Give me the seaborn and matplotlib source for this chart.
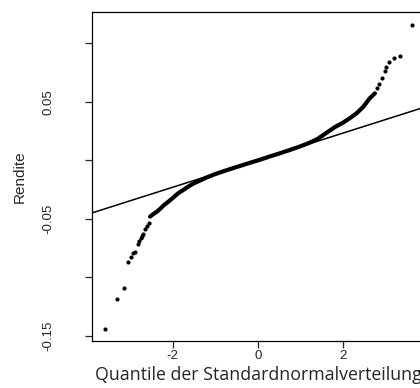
import matplotlib
matplotlib.use("Agg")
import matplotlib.pyplot as plt
import seaborn as sns

# Sparse points in the lower tail (theoretical quantile, return)
tail_low_q = [-3.59, -3.30, -3.15, -3.04, -2.98, -2.93, -2.88, -2.82, -2.78,
              -2.75, -2.72, -2.69, -2.65, -2.61, -2.56]
tail_low_r = [-0.1443, -0.1186, -0.1092, -0.0865, -0.0822, -0.0793, -0.0785,
              -0.0716, -0.0685, -0.0665, -0.0645, -0.0628, -0.0588, -0.0560, -0.0537]

# Dense body of the sample (drawn as a thick band)
body_q = [-2.53, -2.45, -2.37, -2.28, -2.20, -2.10, -1.98, -1.87, -1.75, -1.63,
          -1.50, -1.35, -1.20, -1.00, -0.75, -0.50, -0.25, 0.00, 0.25, 0.50,
          0.75, 1.00, 1.20, 1.40, 1.60, 1.80, 2.00, 2.15, 2.31, 2.47, 2.62, 2.74]
body_r = [-0.0480, -0.0457, -0.0438, -0.0409, -0.0380, -0.0352, -0.0315, -0.0280,
          -0.0252, -0.0222, -0.0195, -0.0170, -0.0145, -0.0116, -0.0085, -0.0056,
          -0.0027, 0.0001, 0.0031, 0.0060, 0.0090, 0.0122, 0.0150, 0.0185,
          0.0235, 0.0285, 0.0325, 0.0361, 0.0403, 0.0460, 0.0532, 0.0574]

# Sparse points in the upper tail
tail_up_q = [2.79, 2.83, 2.90, 2.97, 3.01, 3.08, 3.19, 3.33, 3.61]
tail_up_r = [0.0617, 0.0654, 0.0708, 0.0768, 0.0797, 0.0839, 0.0873, 0.0896, 0.1158]

# reference line through the quartiles
line_intercept = 0.0003
line_slope = 0.0116

y_ticks = [-0.15, -0.10, -0.05, 0.0, 0.05, 0.10]
y_labels = ["-0.15", "", "-0.05", "", "0.05", ""]
x_ticks = [-2, 0, 2]
x_labels = ["-2", "0", "2"]

sns.set_style("ticks")
plt.rcParams["font.family"] = ["Liberation Sans", "DejaVu Sans"]

fig = plt.figure(figsize=(4.2, 3.88), dpi=100)
ax = fig.add_axes([92 / 420, 47 / 388, 332 / 420, 329 / 388])

sns.lineplot(x=body_q, y=body_r, sort=False, estimator=None, color="black",
             lw=3.0, ax=ax)
sns.scatterplot(x=tail_low_q + tail_up_q, y=tail_low_r + tail_up_r, color="black",
                s=9, linewidth=0, ax=ax)
ax.axline((0, line_intercept), slope=line_slope, color="black", lw=1.1)

ax.set_xlim(-3.89, 3.89)
ax.set_ylim(-0.1543, 0.1269)
ax.set_yticks(y_ticks)
ax.set_yticklabels(y_labels, rotation=90, va="center", fontsize=9.5)
ax.set_xticks(x_ticks)
ax.set_xticklabels(x_labels, fontsize=9.5)
ax.tick_params(axis="y", length=5, width=0.9, pad=22)
ax.tick_params(axis="x", length=5, width=0.9, pad=1.5)
for s in ax.spines.values():
    s.set_linewidth(0.9)
    s.set_color("black")

ax.set_ylabel("Rendite", fontsize=11, labelpad=11)
ax.set_xlabel("Quantile der Standardnormalverteilung", family="Open Sans",
              fontsize=12.8, labelpad=3)

fig.savefig("out.png", dpi=100)
